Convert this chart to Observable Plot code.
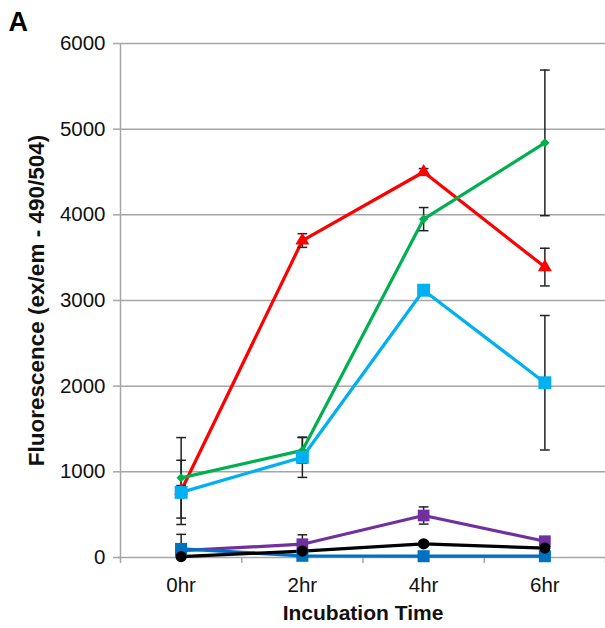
<!DOCTYPE html>
<html>
<head>
<meta charset="utf-8">
<script src="https://cdn.jsdelivr.net/npm/d3@7"></script>
<script src="https://cdn.jsdelivr.net/npm/@observablehq/plot@0.6"></script>
<style>
  html, body { margin: 0; padding: 0; background: #fff; }
  #chart svg { display: block; }
</style>
</head>
<body>
<div id="chart"></div>
<script>
// Categories (hours) and their tick labels
const times = [0, 2, 4, 6];
const timeLabels = ["0hr", "2hr", "4hr", "6hr"];
const yTicks = [0, 1000, 2000, 3000, 4000, 5000, 6000];

// Series values (means) and error (± SD)
const redVals       = [780, 3700, 4500, 3390];
const redErr        = [60, 80, 40, 220];
const greenVals     = [930, 1250, 3950, 4840];
const greenErr      = [470, 150, 135, 850];
const lightBlueVals = [760, 1170, 3120, 2040];
const lightBlueErr  = [375, 235, 40, 785];
const purpleVals    = [80, 155, 490, 190];
const purpleErr     = [60, 110, 100, 40];
const darkBlueVals  = [100, 20, 15, 15];
const darkBlueErr   = [170, 10, 10, 10];
const blackVals     = [10, 75, 160, 110];
const blackErr      = [10, 30, 30, 30];

const series = [
  {name: "red",       vals: redVals,       err: redErr,       color: "#ff0000", symbol: "triangle", r: 5.2},
  {name: "green",     vals: greenVals,     err: greenErr,     color: "#00b050", symbol: "diamond2", r: 4.2},
  {name: "lightblue", vals: lightBlueVals, err: lightBlueErr, color: "#00b0f0", symbol: "square",   r: 7.3},
  {name: "purple",    vals: purpleVals,    err: purpleErr,    color: "#7030a0", symbol: "square",   r: 6.6},
  {name: "darkblue",  vals: darkBlueVals,  err: darkBlueErr,  color: "#0070c0", symbol: "square",   r: 6.8},
  {name: "black",     vals: blackVals,     err: blackErr,     color: "#000000", symbol: "circle",   r: 5.6}
];

const rows = series.flatMap(s => times.map((t, i) => ({
  series: s.name, t, v: s.vals[i], lo: s.vals[i] - s.err[i], hi: s.vals[i] + s.err[i],
  color: s.color, symbol: s.symbol, r: s.r
})));

const gray = "#a6a6a6";
const capHalf = 0.08;

const marks = [
  Plot.gridY(yTicks.filter(d => d > 0), {stroke: gray, strokeOpacity: 1, strokeWidth: 1.5}),
  Plot.ruleX([-1], {stroke: gray, strokeWidth: 1.5}),
  Plot.ruleY([0], {x1: -1.03, x2: 7, stroke: gray, strokeWidth: 1.5}),
  Plot.axisY({ticks: yTicks, tickSize: 7, tickPadding: 8, fontSize: 20.5, stroke: gray, strokeWidth: 1.5, fill: "#111",
    tickFormat: d => String(d), label: null}),
  Plot.axisX({ticks: [-1, 1, 3, 5, 7], tickSize: 6, tickFormat: () => "", stroke: gray, strokeWidth: 1.5, label: null}),
  Plot.axisX({ticks: times, tickSize: 0, tickPadding: 20, fontSize: 20.5, fill: "#111",
    tickFormat: d => timeLabels[times.indexOf(d)], label: null})
];

for (const s of series) {
  const data = rows.filter(d => d.series === s.name);
  marks.push(Plot.line(data, {x: "t", y: "v", stroke: s.color, strokeWidth: 3.2}));
}
for (const s of series) {
  const data = rows.filter(d => d.series === s.name);
  marks.push(
    Plot.ruleX(data, {x: "t", y1: d => Math.max(0, d.lo), y2: "hi", stroke: "#222", strokeWidth: 1.5}),
    Plot.link(data, {x1: d => d.t - capHalf, x2: d => d.t + capHalf, y1: "hi", y2: "hi", stroke: "#222", strokeWidth: 1.5}),
    Plot.link(data.filter(d => d.lo > 0), {x1: d => d.t - capHalf, x2: d => d.t + capHalf, y1: "lo", y2: "lo", stroke: "#222", strokeWidth: 1.5})
  );
}
for (const s of series) {
  const data = rows.filter(d => d.series === s.name);
  marks.push(Plot.dot(data, {x: "t", y: "v", symbol: () => s.symbol, fill: s.color, stroke: "none", r: s.r}));
}

marks.push(
  Plot.text(["Incubation Time"], {frameAnchor: "bottom", dy: 62, text: d => d, fontSize: 21, fontWeight: "bold", lineAnchor: "bottom", textAnchor: "middle", fill: "#111"}),
  Plot.text(["Fluorescence (ex/em - 490/504)"], {frameAnchor: "left", dx: -84, rotate: -90, text: d => d, fontSize: 22.5, fontWeight: "bold", textAnchor: "middle", lineAnchor: "middle", fill: "#111"}),
  Plot.text(["A"], {frameAnchor: "top-left", dx: -112, dy: -21, text: d => d, fontSize: 27, fontWeight: "bold", textAnchor: "start", lineAnchor: "middle", fill: "#000"})
);

const chart = Plot.plot({
  width: 605,
  height: 628,
  marginLeft: 120,
  marginRight: 0,
  marginTop: 43,
  marginBottom: 71,
  x: {domain: [-1, 7], axis: null},
  y: {domain: [0, 6000], axis: null},
  symbol: {type: "identity"},
  style: {fontFamily: "'Liberation Sans', Arial, sans-serif", background: "#fff", overflow: "visible"},
  marks
});
document.getElementById("chart").appendChild(chart);
</script>
</body>
</html>
